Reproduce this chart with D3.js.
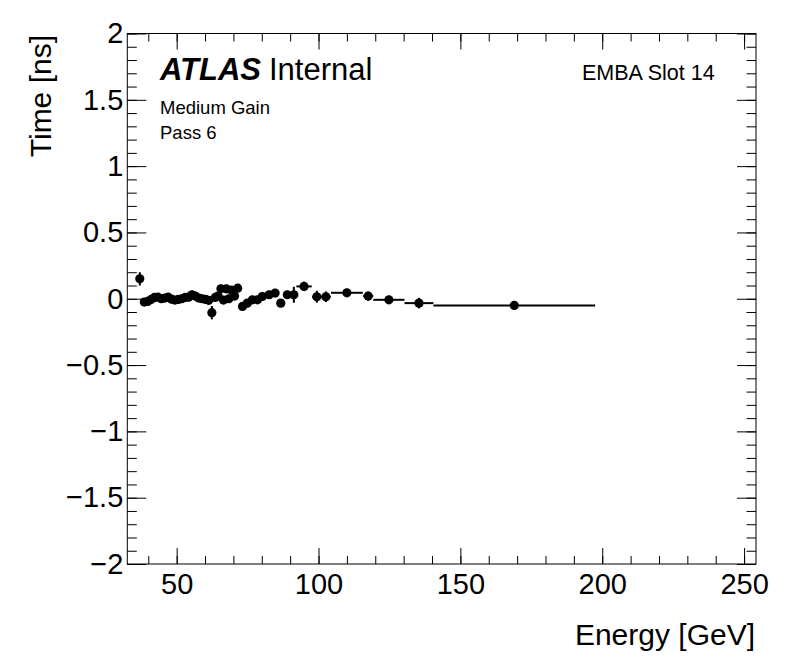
<!DOCTYPE html>
<html>
<head>
<meta charset="utf-8">
<script src="https://cdn.jsdelivr.net/npm/d3@7"></script>
<style>
  body { margin: 0; background: #fff; }
  svg { font-family: "Liberation Sans", Arial, Helvetica, sans-serif; }
</style>
</head>
<body>
<svg id="chart" width="796" height="672"></svg>
<script>
// Energy bin centres [GeV] and half-widths
const energy = [37.0, 38.6, 39.8, 41.0, 42.2, 43.4, 44.6, 45.8, 47.0, 48.2,
  49.4, 50.6, 51.8, 53.0, 54.2, 55.4, 56.6, 57.8, 59.0, 60.2,
  61.3, 62.4, 63.6, 64.6, 65.6, 66.5, 67.5, 68.4, 69.4, 70.4,
  71.5, 73.2, 74.9, 76.7, 78.5, 80.2, 82.6, 84.7, 86.7, 89.0,
  91.3, 94.9, 99.4, 102.6, 110.0, 117.5, 124.8, 135.4, 169.0];
const energyErr = [0.8, 0.6, 0.6, 0.6, 0.6, 0.6, 0.6, 0.6, 0.6, 0.6,
  0.6, 0.6, 0.6, 0.6, 0.6, 0.6, 0.6, 0.6, 0.6, 0.6,
  0.6, 0.6, 0.6, 0.5, 0.5, 0.5, 0.5, 0.5, 0.5, 0.5,
  0.6, 0.8, 0.9, 0.9, 0.9, 0.9, 1.1, 1.1, 1.0, 1.2,
  1.1, 2.7, 1.7, 1.7, 5.6, 1.8, 5.5, 5.1, 28.5];

// Mean time [ns] and its error
const time = [0.150, -0.025, -0.020, -0.005, 0.010, 0.012, 0.000, 0.005, 0.012, -0.003,
  -0.010, -0.005, 0.000, 0.010, 0.012, 0.030, 0.020, 0.005, 0.000, -0.005,
  -0.012, -0.105, 0.010, 0.020, 0.075, -0.010, 0.075, 0.000, 0.065, 0.020,
  0.080, -0.058, -0.033, -0.008, -0.008, 0.017, 0.030, 0.043, -0.033, 0.030,
  0.030, 0.093, 0.015, 0.015, 0.045, 0.020, -0.008, -0.033, -0.050];
const timeErr = [0.05, 0.03, 0.03, 0.03, 0.03, 0.03, 0.03, 0.03, 0.03, 0.03,
  0.03, 0.03, 0.03, 0.03, 0.03, 0.03, 0.03, 0.03, 0.03, 0.03,
  0.03, 0.05, 0.03, 0.03, 0.03, 0.03, 0.03, 0.03, 0.03, 0.03,
  0.03, 0.03, 0.03, 0.03, 0.03, 0.03, 0.03, 0.03, 0.03, 0.03,
  0.06, 0.035, 0.045, 0.04, 0.03, 0.035, 0.03, 0.04, 0.03];

// Axis ticks
const xMajor = [50, 100, 150, 200, 250];
const xMinor = d3.range(40, 251, 10);
const yMajor = [-2, -1.5, -1, -0.5, 0, 0.5, 1, 1.5, 2];
const yMinor = d3.range(-20, 21).map(d => d / 10);

const L = 127.3, R = 756, T = 33.5, B = 564;
const svg = d3.select("#chart");

const x = d3.scaleLinear().domain([32.6, 254.2]).range([L, R]);
const y = d3.scaleLinear().domain([-2, 2]).range([B, T]);

const fmt = d3.format("");

// frame
svg.append("rect")
  .attr("x", L).attr("y", T).attr("width", R - L).attr("height", B - T)
  .attr("fill", "none").attr("stroke", "#000").attr("stroke-width", 1);

function styleAxis(g) {
  g.select(".domain").remove();
  g.selectAll(".tick line").attr("stroke", "#000").attr("stroke-width", 1);
  g.selectAll(".tick text").attr("fill", "#000").attr("font-size", 29)
    .attr("font-family", "Liberation Sans, Arial, Helvetica, sans-serif");
}

// bottom axis
svg.append("g").attr("transform", `translate(0,${B})`)
  .call(d3.axisBottom(x).tickValues(xMinor).tickSizeInner(-8).tickSizeOuter(0).tickFormat(""))
  .call(styleAxis);
svg.append("g").attr("transform", `translate(0,${B})`)
  .call(d3.axisBottom(x).tickValues(xMajor).tickSizeInner(-16).tickSizeOuter(0).tickPadding(9.5).tickFormat(fmt))
  .call(styleAxis);
// top axis
svg.append("g").attr("transform", `translate(0,${T})`)
  .call(d3.axisTop(x).tickValues(xMinor).tickSizeInner(-8).tickSizeOuter(0).tickFormat(""))
  .call(styleAxis);
svg.append("g").attr("transform", `translate(0,${T})`)
  .call(d3.axisTop(x).tickValues(xMajor).tickSizeInner(-16).tickSizeOuter(0).tickFormat(""))
  .call(styleAxis);
// left axis
svg.append("g").attr("transform", `translate(${L},0)`)
  .call(d3.axisLeft(y).tickValues(yMinor).tickSizeInner(-9.5).tickSizeOuter(0).tickFormat(""))
  .call(styleAxis);
svg.append("g").attr("transform", `translate(${L},0)`)
  .call(d3.axisLeft(y).tickValues(yMajor).tickSizeInner(-19).tickSizeOuter(0).tickPadding(4).tickFormat(fmt))
  .call(styleAxis);
// right axis
svg.append("g").attr("transform", `translate(${R},0)`)
  .call(d3.axisRight(y).tickValues(yMinor).tickSizeInner(-9.5).tickSizeOuter(0).tickFormat(""))
  .call(styleAxis);
svg.append("g").attr("transform", `translate(${R},0)`)
  .call(d3.axisRight(y).tickValues(yMajor).tickSizeInner(-19).tickSizeOuter(0).tickFormat(""))
  .call(styleAxis);

// data points
const pts = energy.map((e, i) => ({ e, ex: energyErr[i], t: time[i], tx: timeErr[i] }));
const gp = svg.append("g");
gp.selectAll("line.ex").data(pts).enter().append("line")
  .attr("x1", d => x(d.e - d.ex)).attr("x2", d => x(d.e + d.ex))
  .attr("y1", d => y(d.t)).attr("y2", d => y(d.t))
  .attr("stroke", "#000").attr("stroke-width", 2);
gp.selectAll("line.ey").data(pts).enter().append("line")
  .attr("x1", d => x(d.e)).attr("x2", d => x(d.e))
  .attr("y1", d => y(d.t - d.tx)).attr("y2", d => y(d.t + d.tx))
  .attr("stroke", "#000").attr("stroke-width", 2);
gp.selectAll("circle").data(pts).enter().append("circle")
  .attr("cx", d => x(d.e)).attr("cy", d => y(d.t)).attr("r", 4.6)
  .attr("fill", "#000");

// axis titles
svg.append("text")
  .attr("x", 755).attr("y", 645).attr("text-anchor", "end")
  .attr("font-size", 30).text("Energy [GeV]");
svg.append("text")
  .attr("transform", "translate(51,35) rotate(-90)")
  .attr("text-anchor", "end").attr("font-size", 30).text("Time [ns]");

// labels
svg.append("text").attr("x", 160).attr("y", 80)
  .attr("font-size", 31).attr("font-weight", "bold").attr("font-style", "italic").text("ATLAS");
svg.append("text").attr("x", 269).attr("y", 80)
  .attr("font-size", 31).text("Internal");
svg.append("text").attr("x", 160).attr("y", 114)
  .attr("font-size", 18.5).text("Medium Gain");
svg.append("text").attr("x", 160).attr("y", 139)
  .attr("font-size", 18.5).text("Pass 6");
svg.append("text").attr("x", 582).attr("y", 80)
  .attr("font-size", 21.5).text("EMBA Slot 14");
</script>
</body>
</html>
